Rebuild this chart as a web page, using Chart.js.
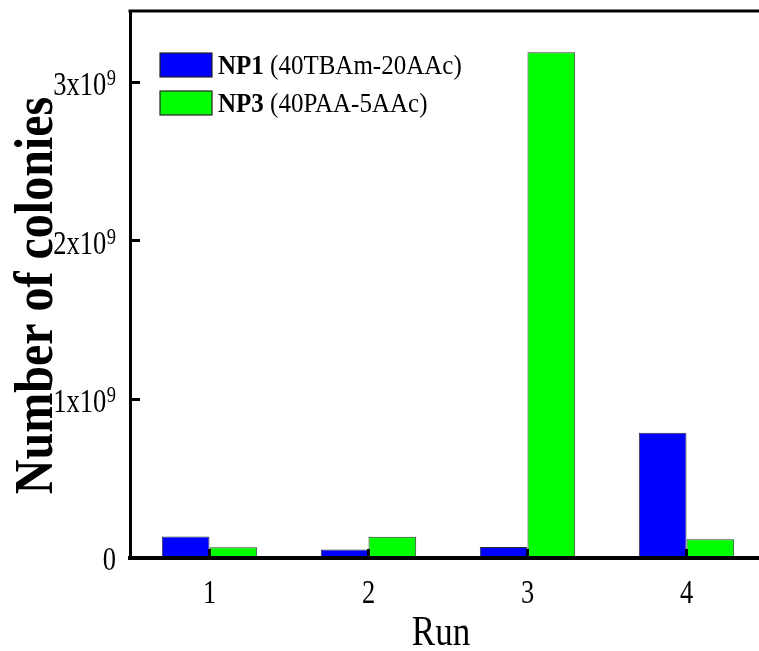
<!DOCTYPE html>
<html>
<head>
<meta charset="utf-8">
<script src="https://cdn.jsdelivr.net/npm/chart.js@4.4.0/dist/chart.umd.min.js"></script>
<style>
  html, body { margin: 0; padding: 0; background: #fff; overflow: hidden; }
  canvas { display: block; }
</style>
</head>
<body>
<canvas id="colonies" width="780" height="651"></canvas>
<script>
const runs = ['1', '2', '3', '4'];
const np1Colonies = [1.35e8, 0.54e8, 0.70e8, 7.9e8];
const np3Colonies = [0.68e8, 1.34e8, 3.19e9, 1.18e8];
const yTicks = [0, 1e9, 2e9, 3e9];
const seriesNames = ['NP1', 'NP3'];
const seriesNotes = ['(40TBAm-20AAc)', '(40PAA-5AAc)'];

const serif = '"Liberation Serif", "Times New Roman", serif';

// text drawn taller than the font's own proportions (k = vertical stretch of the glyphs)
function tallText(ctx, text, x, y, font, k, align, rotated) {
  ctx.save();
  ctx.translate(x, y);
  if (rotated) ctx.rotate(-Math.PI / 2);
  ctx.scale(1, k);
  ctx.font = font;
  ctx.textAlign = align;
  ctx.textBaseline = 'alphabetic';
  ctx.fillStyle = '#000';
  ctx.fillText(text, 0, 0);
  ctx.restore();
}

// box around the plot: the axes give left and bottom, this adds top and right
const framePlugin = {
  id: 'frame',
  afterDraw(chart) {
    const { ctx, chartArea } = chart;
    ctx.save();
    ctx.strokeStyle = '#000';
    ctx.lineWidth = 3;
    ctx.beginPath();
    ctx.moveTo(chartArea.left - 1.5, chartArea.top);
    ctx.lineTo(chartArea.right, chartArea.top);
    ctx.lineTo(chartArea.right, chartArea.bottom);
    ctx.stroke();
    ctx.restore();
  }
};

// tick labels and axis titles, placed from the scales
const axisTextPlugin = {
  id: 'axisText',
  afterDraw(chart) {
    const { ctx, chartArea } = chart;
    const x = chart.scales.x;
    const y = chart.scales.y;
    const right = chartArea.left - 14;

    yTicks.forEach(v => {
      const py = y.getPixelForValue(v);
      if (v === 0) {
        tallText(ctx, '0', right, py + 12, '26.5px ' + serif, 1.28, 'right');
        return;
      }
      ctx.font = '18.5px ' + serif;
      const supW = ctx.measureText('9').width;
      tallText(ctx, '9', right, py + 3, '18.5px ' + serif, 1.28, 'right');
      tallText(ctx, (v / 1e9) + 'x10', right - supW - 0.5, py + 13, '26.5px ' + serif, 1.28, 'right');
    });

    runs.forEach((r, i) => {
      tallText(ctx, r, x.getPixelForTick(i), chartArea.bottom + 45, '26.5px ' + serif, 1.28, 'center');
    });

    tallText(ctx, 'Run', chartArea.left + 311, chartArea.bottom + 87, '35px ' + serif, 1.22, 'center');
    tallText(ctx, 'Number of colonies', 52, (chartArea.top + chartArea.bottom) / 2 + 11,
      'bold 48px ' + serif, 1.15, 'center', true);
  }
};

// legend with the sample name in bold and its composition in regular weight
const legendPlugin = {
  id: 'compositionLegend',
  afterDraw(chart) {
    const { ctx, chartArea } = chart;
    const x = chartArea.left + 30;
    ctx.save();
    chart.data.datasets.forEach((ds, i) => {
      const y = chartArea.top + 42 + i * 38;
      ctx.fillStyle = ds.backgroundColor;
      ctx.fillRect(x, y, 52, 24);
      ctx.strokeStyle = '#222';
      ctx.lineWidth = 1.2;
      ctx.strokeRect(x, y, 52, 24);
      ctx.font = 'bold 25px ' + serif;
      const w = ctx.measureText(seriesNames[i] + ' ').width;
      tallText(ctx, seriesNames[i], x + 58, y + 20.5, 'bold 25px ' + serif, 1.08, 'left');
      tallText(ctx, seriesNotes[i], x + 58 + w, y + 20.5, '25px ' + serif, 1.08, 'left');
    });
    ctx.restore();
  }
};

new Chart(document.getElementById('colonies'), {
  type: 'bar',
  data: {
    labels: runs,
    datasets: [
      {
        label: seriesNames[0] + ' ' + seriesNotes[0],
        data: np1Colonies,
        backgroundColor: '#0000ff',
        borderColor: '#333',
        borderWidth: 1
      },
      {
        label: seriesNames[1] + ' ' + seriesNotes[1],
        data: np3Colonies,
        backgroundColor: '#00ff00',
        borderColor: '#333',
        borderWidth: 1
      }
    ]
  },
  options: {
    responsive: false,
    animation: false,
    layout: { padding: { top: 11, right: 14, left: 0, bottom: 0 } },
    datasets: { bar: { barPercentage: 1, categoryPercentage: 0.6 } },
    plugins: {
      legend: { display: false },
      tooltip: { enabled: false }
    },
    scales: {
      x: {
        grid: { offset: false, drawOnChartArea: false, tickLength: -9, tickWidth: 3, tickColor: '#000', z: 1 },
        border: { color: '#000', width: 4, z: 1 },
        ticks: { display: false },
        afterFit(axis) {
          axis.height = 93;
          axis.paddingLeft = 0;
          axis.paddingRight = 0;
        }
      },
      y: {
        min: 0,
        max: 3.45e9,
        afterBuildTicks(axis) { axis.ticks = yTicks.map(v => ({ value: v })); },
        grid: { drawOnChartArea: false, tickLength: -10, tickWidth: 3, tickColor: '#000', z: 1 },
        border: { color: '#000', width: 3, z: 1 },
        ticks: { display: false },
        afterFit(axis) {
          axis.width = 130;
          axis.paddingTop = 0;
          axis.paddingBottom = 0;
        }
      }
    }
  },
  plugins: [framePlugin, axisTextPlugin, legendPlugin]
});
</script>
</body>
</html>
